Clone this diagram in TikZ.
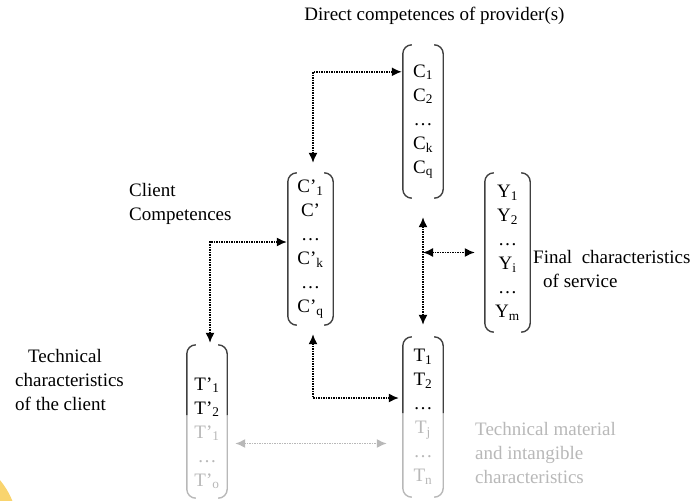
\documentclass[tikz,border=0pt]{standalone}
\usepackage{fontspec}
\setmainfont{Liberation Serif}
\usetikzlibrary{positioning, arrows.meta, calc}
\definecolor{sun}{HTML}{F9D46E}
\colorlet{faded}{black!28}
\tikzset{col node/.style={minimum width=40pt, inner sep=0pt, align=center},
	paren/.style={line width=1.4pt, black!75, rounded corners=9pt},
	dot link/.style={densely dotted, line width=1.5pt, {Latex[length=10pt,width=9pt]}-{Latex[length=10pt,width=9pt]}},
	faint link/.style={dot link, faded},
	side label/.style={inner sep=0pt, align=left, anchor=west},}

\begin{document}
\begin{tikzpicture}[x=1pt, y=-1pt, font=\fontsize{19}{24}\selectfont]
				\useasboundingbox (0,0) rectangle (695,500);
				\fill[sun] (-60,530) circle (78);
				% Columns
				\node[col node, minimum height=153pt] (c) at (423,121.5) {C\textsubscript{1}\\C\textsubscript{2}\\\dots\\C\textsubscript{k}\\C\textsubscript{q}};
				\node[col node, minimum width=45pt, minimum height=152pt] (cc) at (310.5,249) {C'\textsubscript{1}\\C'\\\dots\\C'\textsubscript{k}\\\dots\\C'\textsubscript{q}};
				\node[col node, minimum width=45pt, minimum height=159pt] (y) at (507.5,252.5) {Y\textsubscript{1}\\Y\textsubscript{2}\\\dots\\Y\textsubscript{i}\\\dots\\Y\textsubscript{m}};
				\node[col node, minimum height=160pt] (t) at (423,417) {T\textsubscript{1}\\T\textsubscript{2}\\\dots\\\textcolor{faded}{T\textsubscript{j}}\\\textcolor{faded}{\dots}\\\textcolor{faded}{T\textsubscript{n}}};
				\node[col node, minimum height=153pt] (tp) at (207,421.5) {\rule{0pt}{36pt}T'\textsubscript{1}\\T'\textsubscript{2}\\\textcolor{faded}{T'\textsubscript{1}}\\\textcolor{faded}{\dots}\\\textcolor{faded}{T'\textsubscript{o}}};
				% Labels
				\node (title) at (434.5,16) {Direct competences of provider(s)};
				\node[side label] (client) at (129,204) {Client\\Competences};
				\node[side label] (tech) at (15,380) {\hspace*{13pt}Technical\\characteristics\\of the client};
				\node[side label] (final) at (533,269) {Final\ \ characteristics\\\hspace*{10pt}of service};
				\node[side label, text=faded] (mat) at (475,453) {Technical material\\and intangible\\characteristics};
				% Brackets
				\foreach \n in {c, cc, y} {
					\draw[paren] ([xshift=9pt]\n.north west) -- (\n.north west) -- (\n.south west) -- ([xshift=9pt]\n.south west);
					\draw[paren] ([xshift=-9pt]\n.north east) -- (\n.north east) -- (\n.south east) -- ([xshift=-9pt]\n.south east);
				}
				\foreach \n/\s in {t/4pt, tp/6.5pt} {
					\draw[paren, faded] ([yshift=\s]\n.west) -- (\n.south west) -- ([xshift=9pt]\n.south west);
					\draw[paren, faded] ([yshift=\s]\n.east) -- (\n.south east) -- ([xshift=-9pt]\n.south east);
					\draw[paren] ([xshift=9pt]\n.north west) -- (\n.north west) -- ([yshift=\s]\n.west);
					\draw[paren] ([xshift=-9pt]\n.north east) -- (\n.north east) -- ([yshift=\s]\n.east);
				}
				% Links
				\coordinate (hub) at (c.south |- y.west);
				\draw[dot link, shorten <=1pt, shorten >=10pt] ([yshift=-27pt]c.north west) -| ([xshift=2.5pt]cc.north);
				\draw[dot link, shorten <=1pt, shorten >=2pt] ([yshift=7pt]cc.west) -| ([xshift=3pt]tp.north);
				\draw[dot link, shorten <=9pt, shorten >=4pt] ([xshift=2.5pt]cc.south) |- ([yshift=19pt]t.west);
				\draw[dot link, shorten <=19pt, shorten >=12pt] (c.south) -- (t.north);
				\draw[dot link, shorten >=10pt] (hub) -- (y.west);
				\draw[faint link, shorten <=8pt, shorten >=16pt] ([yshift=-22pt]tp.east) -- ([yshift=-22pt]tp.east -| t.west);
			\end{tikzpicture}
\end{document}
